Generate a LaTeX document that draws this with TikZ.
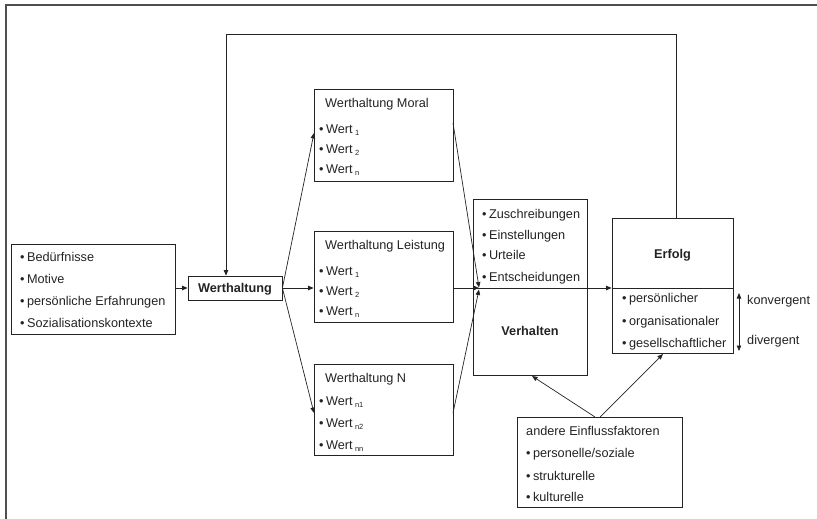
\documentclass[tikz,border=0pt]{standalone}
\usepackage{fontspec}
\setmainfont{Liberation Sans}
\usetikzlibrary{arrows.meta,calc}
\definecolor{ink}{RGB}{35,35,35}
\newcommand{\bul}{•\hspace{2.4pt}}
\newcommand{\wsub}[1]{\hspace{2.4pt}\raisebox{-2.8pt}{\fontsize{7.5}{8}\selectfont #1}}
\begin{document}
\begin{tikzpicture}[x=1pt,y=-1pt,
  box/.style={draw=ink,line width=0.8pt,inner sep=0pt,rectangle},
  txt/.style={anchor=base west,inner sep=0pt,font=\fontsize{12.7}{14}\selectfont,text=ink},
  ttl/.style={anchor=base,inner sep=0pt,font=\fontsize{12.7}{14}\selectfont\bfseries,text=ink},
  arr/.style={draw=ink,line width=0.7pt,-{Triangle[length=5.5pt,width=4.5pt]}},
  dbl/.style={draw=ink,line width=0.7pt,{Triangle[length=5.5pt,width=4.5pt]}-{Triangle[length=5.5pt,width=4.5pt]}},
  ln/.style={draw=ink,line width=0.7pt},
  frame/.style={draw=ink!80,line width=1.1pt}]
\useasboundingbox (0,0) rectangle (817,519);
% frame (only left and top visible)
\coordinate (frBL) at (6,519);
\coordinate (frTL) at (6,5);
\coordinate (frTR) at (817,5);
\draw[frame] (frBL) -- (frTL) -- (frTR);

% boxes
\node[box,minimum width=164pt,minimum height=90pt] (inp) at (93,289) {};
\node[box,minimum width=94pt,minimum height=24pt] (wh) at (235,288) {};
\node[box,minimum width=139pt,minimum height=92pt] (moral) at (383.5,135) {};
\node[box,minimum width=139pt,minimum height=91pt] (leist) at (383.5,276.5) {};
\node[box,minimum width=139pt,minimum height=91pt] (wn) at (383.5,409.5) {};
\node[box,minimum width=114pt,minimum height=176pt] (verh) at (530,287) {};
\node[box,minimum width=121pt,minimum height=135pt] (erf) at (672.5,285.5) {};
\node[box,minimum width=165pt,minimum height=90pt] (ein) at (599.5,462) {};

% input texts
\node[txt] (i1) at (20,261) {\bul Bedürfnisse};
\node[txt] (i2) at (20,283) {\bul Motive};
\node[txt] (i3) at (20,305) {\bul persönliche Erfahrungen};
\node[txt] (i4) at (20,327) {\bul Sozialisationskontexte};

\node[ttl] (whT) at (235,292.5) {Werthaltung};

% Moral
\node[txt] (m0) at (325,107) {Werthaltung Moral};
\node[txt] (m1) at (319,133) {\bul Wert\wsub{1}};
\node[txt] (m2) at (319,153) {\bul Wert\wsub{2}};
\node[txt] (m3) at (319,173) {\bul Wert\wsub{n}};
% Leistung
\node[txt] (l0) at (325,249) {Werthaltung Leistung};
\node[txt] (l1) at (319,275) {\bul Wert\wsub{1}};
\node[txt] (l2) at (319,295) {\bul Wert\wsub{2}};
\node[txt] (l3) at (319,315) {\bul Wert\wsub{n}};
% N
\node[txt] (n0) at (325,382) {Werthaltung N};
\node[txt] (n1) at (319,405) {\bul Wert\wsub{n1}};
\node[txt] (n2) at (319,427) {\bul Wert\wsub{n2}};
\node[txt] (n3) at (319,449) {\bul Wert\wsub{nn}};

% Verhalten
\coordinate (div) at (0,288);
\draw[ln] (verh.west |- div) -- (verh.east |- div);
\node[txt] (v1) at (482,218) {\bul Zuschreibungen};
\node[txt] (v2) at (482,239) {\bul Einstellungen};
\node[txt] (v3) at (482,259) {\bul Urteile};
\node[txt] (v4) at (482,281) {\bul Entscheidungen};
\node[ttl] (vT) at (530,335) {Verhalten};

% Erfolg
\draw[ln] (erf.west |- div) -- (erf.east |- div);
\node[ttl] (eT) at (672.5,258) {Erfolg};
\node[txt] (e1) at (622,302) {\bul persönlicher};
\node[txt] (e2) at (622,325) {\bul organisationaler};
\node[txt] (e3) at (622,347) {\bul gesellschaftlicher};

% konvergent/divergent
\coordinate (kTop) at (739,293);
\coordinate (kBot) at (739,351);
\draw[dbl] (kTop) -- (kBot);
\node[txt] (kv) at (747,304) {konvergent};
\node[txt] (dv) at (747,344) {divergent};

% Einflussfaktoren
\node[txt] (f0) at (526,435) {andere Einflussfaktoren};
\node[txt] (f1) at (526,457) {\bul personelle/soziale};
\node[txt] (f2) at (526,480) {\bul strukturelle};
\node[txt] (f3) at (526,501) {\bul kulturelle};

% connectors
\draw[arr] (inp.east |- wh.west) -- (wh.west);
\coordinate (mIn) at (314,133);
\coordinate (nIn) at (314,413);
\draw[arr] (wh.east) -- (mIn);
\draw[arr] (wh.east) -- (wh.east -| leist.west);
\draw[arr] (wh.east) -- (nIn);

\coordinate (meet) at (479,287.5);
\coordinate (meet2) at (479,289.5);
\coordinate (mOut) at (453,123);
\coordinate (nOut) at (453,413);
\draw[arr] (mOut) -- (meet);
\draw[arr] (leist.east |- div) -- (meet |- div);
\draw[arr] (nOut) -- (meet2);

\draw[arr] (verh.east |- div) -- (erf.west |- div);

% feedback loop
\coordinate (fbR) at (676,34);
\coordinate (fbL) at (226,34);
\draw[arr] (erf.north -| fbR) -- (fbR) -- (fbL) -- (fbL |- wh.north);

% other influences
\coordinate (einA) at (595,417);
\coordinate (einB) at (600,417);
\coordinate (vIn) at (532,376);
\coordinate (eIn) at (663,354);
\draw[arr] (einA) -- (vIn);
\draw[arr] (einB) -- (eIn);
\end{tikzpicture}
\end{document}
